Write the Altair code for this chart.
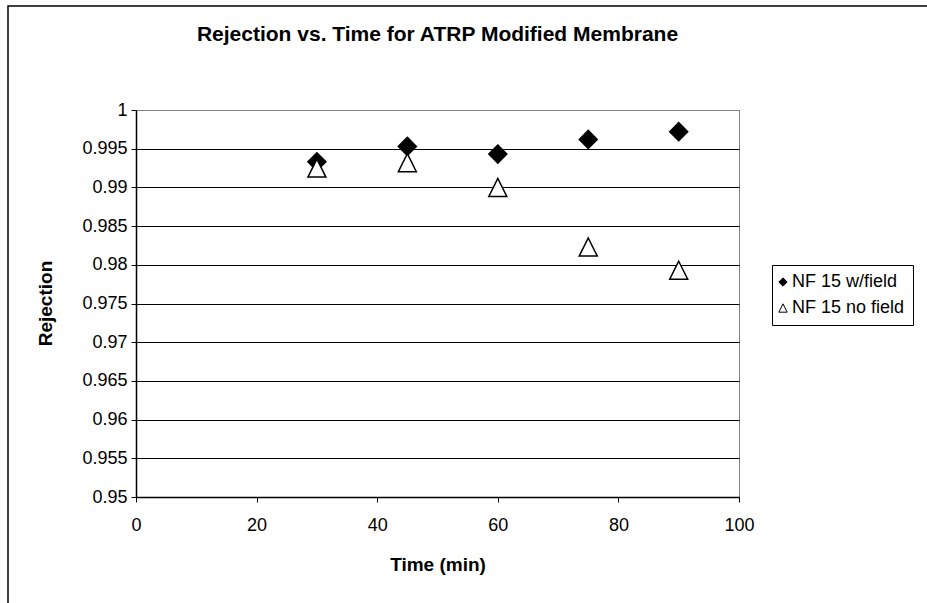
import altair as alt
import pandas as pd

# ---- data ----
times = [30, 45, 60, 75, 90]
w_field = [0.9933, 0.9953, 0.9943, 0.9962, 0.9972]
no_field = [0.9925, 0.9932, 0.9900, 0.9823, 0.9793]
series_names = ["NF 15 w/field", "NF 15 no field"]
x_ticks = [0, 20, 40, 60, 80, 100]
y_ticks = [0.95, 0.955, 0.96, 0.965, 0.97, 0.975, 0.98, 0.985, 0.99, 0.995, 1.0]

rows = []
for t, v in zip(times, w_field):
    rows.append({"Time": t, "Rejection": v, "Series": series_names[0]})
for t, v in zip(times, no_field):
    rows.append({"Time": t, "Rejection": v, "Series": series_names[1]})
df = pd.DataFrame(rows)

FONT = "Liberation Sans"
TRIANGLE = "M0,-1L1,1L-1,1Z"

frame = alt.Chart(pd.DataFrame({"k": [0]})).mark_rect(
    filled=False, stroke="black", strokeWidth=1.5
).encode(
    x=alt.value(-128), x2=alt.value(1000),
    y=alt.value(-104), y2=alt.value(800),
)

points = alt.Chart(df).mark_point(
    filled=True, stroke="black", strokeWidth=1.5, size=324, opacity=1
).encode(
    x=alt.X("Time:Q",
            scale=alt.Scale(domain=[0, 100], nice=False),
            axis=alt.Axis(values=x_ticks, title="Time (min)", grid=False,
                          labelPadding=14, titleY=73, titleBaseline="alphabetic")),
    y=alt.Y("Rejection:Q",
            scale=alt.Scale(domain=[0.95, 1.0], nice=False, zero=False),
            axis=alt.Axis(values=y_ticks, format="~g", title="Rejection", grid=True,
                          gridColor=alt.condition("datum.value == 1", alt.value("#808080"), alt.value("black")),
                          labelPadding=4, titleAngle=270, titleX=-85, titleY=193,
                          titleAlign="center", titleBaseline="alphabetic")),
    fill=alt.Fill("Series:N", title=None,
                  scale=alt.Scale(domain=series_names, range=["black", "white"])),
    shape=alt.Shape("Series:N", title=None,
                    scale=alt.Scale(domain=series_names, range=["diamond", TRIANGLE])),
)

chart = alt.layer(frame, points).properties(
    width=603, height=387,
    autosize=alt.AutoSizeParams(type="none"),
    padding={"left": 136, "top": 110, "right": 188, "bottom": 106},
    title=alt.Title("Rejection vs. Time for ATRP Modified Membrane",
                    font=FONT, fontSize=21, fontWeight="bold", color="black",
                    anchor="middle", frame="group", baseline="alphabetic", offset=-57),
).configure_view(
    stroke="#808080", strokeWidth=1
).configure_axis(
    labelFont=FONT, labelFontSize=18, labelColor="black", labelFlush=False,
    labelOverlap=False,
    titleFont=FONT, titleFontSize=19, titleFontWeight="bold", titleColor="black",
    domainColor="black", domainWidth=1.5, tickColor="black", tickSize=5, tickWidth=1,
    gridWidth=1,
).configure_legend(
    orient="none", legendX=636, legendY=155,
    strokeColor="black", fillColor="white", padding=8,
    labelFont=FONT, labelFontSize=18, labelColor="black", labelOffset=0,
    symbolOffset=-6, symbolSize=70, symbolStrokeWidth=1, rowPadding=8,
)

chart.save("out.html", embed_options={"renderer": "svg", "actions": False})
